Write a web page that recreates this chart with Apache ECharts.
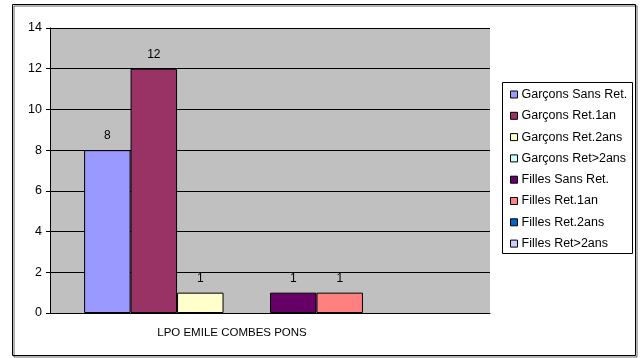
<!DOCTYPE html>
<html><head><meta charset="utf-8">
<script src="https://cdn.jsdelivr.net/npm/echarts@6/dist/echarts.min.js"></script>
<style>html,body{margin:0;padding:0;background:#fff}#c{width:642px;height:358px}</style>
</head><body><div id="c"></div>
<script>
const categories = ['LPO EMILE COMBES PONS'];
const seriesNames = ['Garçons Sans Ret.','Garçons Ret.1an','Garçons Ret.2ans','Garçons Ret>2ans','Filles Sans Ret.','Filles Ret.1an','Filles Ret.2ans','Filles Ret>2ans'];
const garconsSansRet = [8];
const garconsRet1an = [12];
const garconsRet2ans = [1];
const garconsRetPlus2ans = [0];
const fillesSansRet = [1];
const fillesRet1an = [1];
const fillesRet2ans = [0];
const fillesRetPlus2ans = [0];
const yTicks = [0,2,4,6,8,10,12,14];
const colors = ['#9999FF','#993366','#FFFFCC','#CCFFFF','#660066','#FF8080','#0066CC','#CCCCFF'];
const values = [garconsSansRet,garconsRet1an,garconsRet2ans,garconsRetPlus2ans,fillesSansRet,fillesRet1an,fillesRet2ans,fillesRetPlus2ans];
const font = 'Liberation Sans, Arial, sans-serif';

const chart = echarts.init(document.getElementById('c'), null, {renderer:'canvas'});
chart.setOption({
  animation:false,
  backgroundColor:'#fff',
  color:colors,
  graphic:[
    {type:'rect', shape:{x:12.5,y:4.5,width:623,height:351}, style:{fill:'none',stroke:'#000',lineWidth:1,shadowColor:'rgba(0,0,0,0.6)',shadowOffsetX:1.5,shadowOffsetY:1.5,shadowBlur:0}, z:-1},
    {type:'rect', shape:{x:502.5,y:82.5,width:130,height:171}, style:{fill:'#fff',stroke:'#000',lineWidth:1}, z:-1}
  ],
  grid:{left:50,right:152,top:28,bottom:45,show:true,backgroundColor:'#C0C0C0',borderWidth:0},
  legend:{
    orient:'vertical', left:510, top:88, padding:0,
    itemWidth:7, itemHeight:7, itemGap:8.3, icon:'rect',
    textStyle:{fontFamily:font,fontSize:12.5,color:'#000',lineHeight:12,padding:[0,0,0,-1]},
    itemStyle:{borderColor:'#000',borderWidth:1},
    data:seriesNames
  },
  xAxis:{
    type:'category', data:categories,
    axisLine:{lineStyle:{color:'#000',width:1}},
    axisTick:{show:false},
    axisLabel:{fontFamily:font,fontSize:11.5,color:'#000',margin:14,padding:[0,76,0,0]}
  },
  yAxis:{
    type:'value', min:yTicks[0], max:yTicks[yTicks.length-1], interval:2,
    axisLine:{show:true,lineStyle:{color:'#000',width:1}},
    axisTick:{show:true,length:4,lineStyle:{color:'#000'}},
    axisLabel:{fontFamily:font,fontSize:12.5,color:'#000',margin:8},
    splitLine:{lineStyle:{color:'#000',width:1}}
  },
  series: seriesNames.map((n,i)=>({
    name:n, type:'bar',
    data:values[i].map(v=>v===0?{value:v,itemStyle:{borderWidth:0}}:v),
    barGap:'0%', barCategoryGap:'15.5%',
    itemStyle:{color:colors[i],borderColor:'#000',borderWidth:1},
    label:{show:true,position:'top',distance:8,fontFamily:font,fontSize:12,color:'#000',
      formatter:p=>p.value===0?'':String(p.value)}
  }))
});
</script></body></html>
